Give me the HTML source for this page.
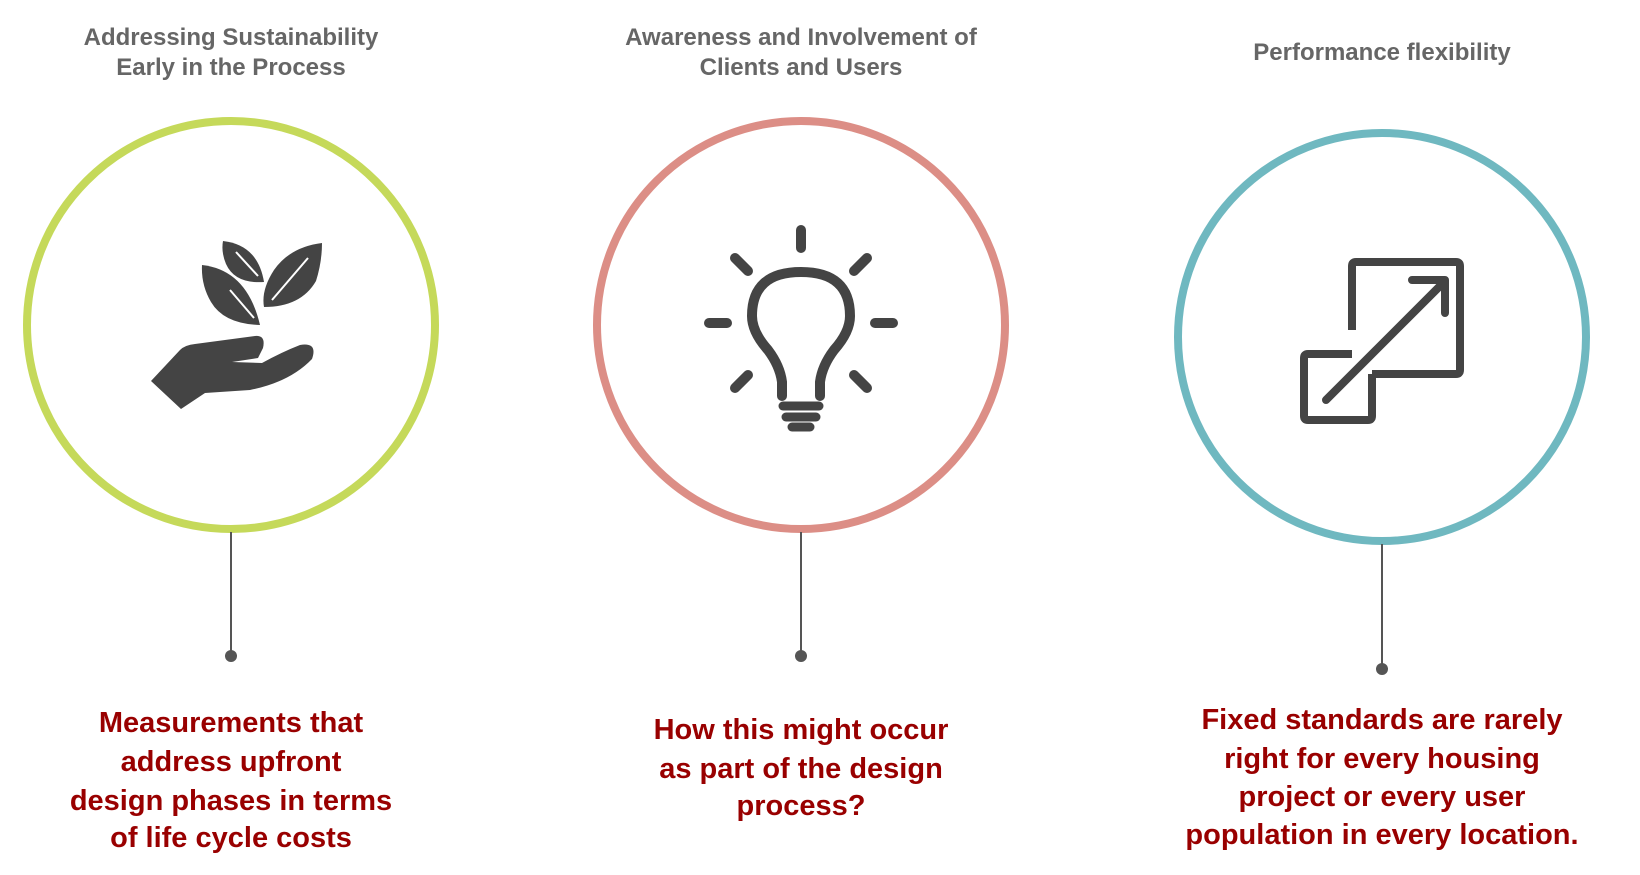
<!DOCTYPE html>
<html><head><meta charset="utf-8"><style>
body{margin:0;width:1640px;height:870px;background:#fff;overflow:hidden;font-family:"Liberation Sans",sans-serif}
</style></head><body>
<svg width="1640" height="870" viewBox="0 0 1640 870" xmlns="http://www.w3.org/2000/svg">
<g font-family="Liberation Sans, sans-serif" text-anchor="middle">
<g fill="#666" font-size="24" font-weight="bold">
<text x="231" y="45">Addressing Sustainability</text>
<text x="231" y="75">Early in the Process</text>
<text x="801" y="45">Awareness and Involvement of</text>
<text x="801" y="75">Clients and Users</text>
<text x="1382" y="60">Performance flexibility</text>
</g>
<g fill="#990000" font-size="29" font-weight="bold">
<text x="231" y="732">Measurements that</text>
<text x="231" y="771">address upfront</text>
<text x="231" y="810">design phases in terms</text>
<text x="231" y="847">of life cycle costs</text>
<text x="801" y="739">How this might occur</text>
<text x="801" y="778">as part of the design</text>
<text x="801" y="815">process?</text>
<text x="1382" y="729">Fixed standards are rarely</text>
<text x="1382" y="768">right for every housing</text>
<text x="1382" y="806">project or every user</text>
<text x="1382" y="844">population in every location.</text>
</g>
</g>
<g fill="none" stroke-width="8">
<circle cx="231" cy="325" r="204" stroke="#c5d95a"/>
<circle cx="801" cy="325" r="204" stroke="#dc8e86"/>
<circle cx="1382" cy="337" r="204" stroke="#6fb8c0"/>
</g>
<g stroke="#555" stroke-width="2">
<line x1="231" y1="532" x2="231" y2="656"/>
<line x1="801" y1="532" x2="801" y2="656"/>
<line x1="1382" y1="544" x2="1382" y2="669"/>
</g>
<g fill="#555">
<circle cx="231" cy="656" r="6"/><circle cx="801" cy="656" r="6"/><circle cx="1382" cy="669" r="6"/>
</g>
<!-- hand & leaves -->
<g fill="#444">
<path d="M223,241 Q258,245 264,282 Q235,284 226,264 Q221,252 223,241Z"/>
<path d="M202,265 Q247,270 260,325 Q224,324 211,302 Q201,285 202,265Z"/>
<path d="M322,243 Q290,247 274,270 Q261,290 264,307 Q301,307 316,281 Q322,262 322,243Z"/>
<path d="M151,381 L180,350 Q185,345 195,344 L255,336 Q266,335 263,348 L258,358 L232,362 L262,363 Q282,352 300,345 Q318,342 312,359 Q290,382 250,390 L205,393 L181,409 Z"/>
</g>
<g stroke="#fff" stroke-width="2" fill="none">
<path d="M236,252 L258,276"/><path d="M230,290 L254,318"/><path d="M308,258 L272,300"/>
</g>
<!-- bulb -->
<g stroke="#444" stroke-linecap="round" fill="none">
<g stroke-width="10">
<line x1="801" y1="230" x2="801" y2="248"/>
<line x1="735" y1="258" x2="748" y2="271"/>
<line x1="867" y1="258" x2="854" y2="271"/>
<line x1="709" y1="323" x2="727" y2="323"/>
<line x1="875" y1="323" x2="893" y2="323"/>
<line x1="735" y1="388" x2="748" y2="375"/>
<line x1="867" y1="388" x2="854" y2="375"/>
</g>
<path stroke-width="10" d="M782,396 L782,382 Q780,366 768,350 Q752,332 752,316 Q752,272 801,272 Q850,272 850,316 Q850,332 834,350 Q822,366 820,382 L820,396"/>
<line stroke-width="9" x1="783" y1="406" x2="819" y2="406"/>
<line stroke-width="9" x1="786" y1="417" x2="816" y2="417"/>
<line stroke-width="9" x1="792" y1="427" x2="810" y2="427"/>
</g>
<!-- expand icon -->
<g stroke="#444" stroke-width="8" fill="none" stroke-linejoin="round">
<path d="M1352,330 L1352,266 Q1352,262 1356,262 L1456,262 Q1460,262 1460,266 L1460,370 Q1460,374 1456,374 L1372,374"/>
<path d="M1372,374 L1372,416 Q1372,420 1368,420 L1308,420 Q1304,420 1304,416 L1304,358 Q1304,354 1308,354 L1352,354"/>
<line x1="1326" y1="400" x2="1443" y2="283" stroke-linecap="round"/>
<path d="M1412,280 L1445,280 L1445,313" stroke-linecap="round"/>
</g>
</svg>
</body></html>
